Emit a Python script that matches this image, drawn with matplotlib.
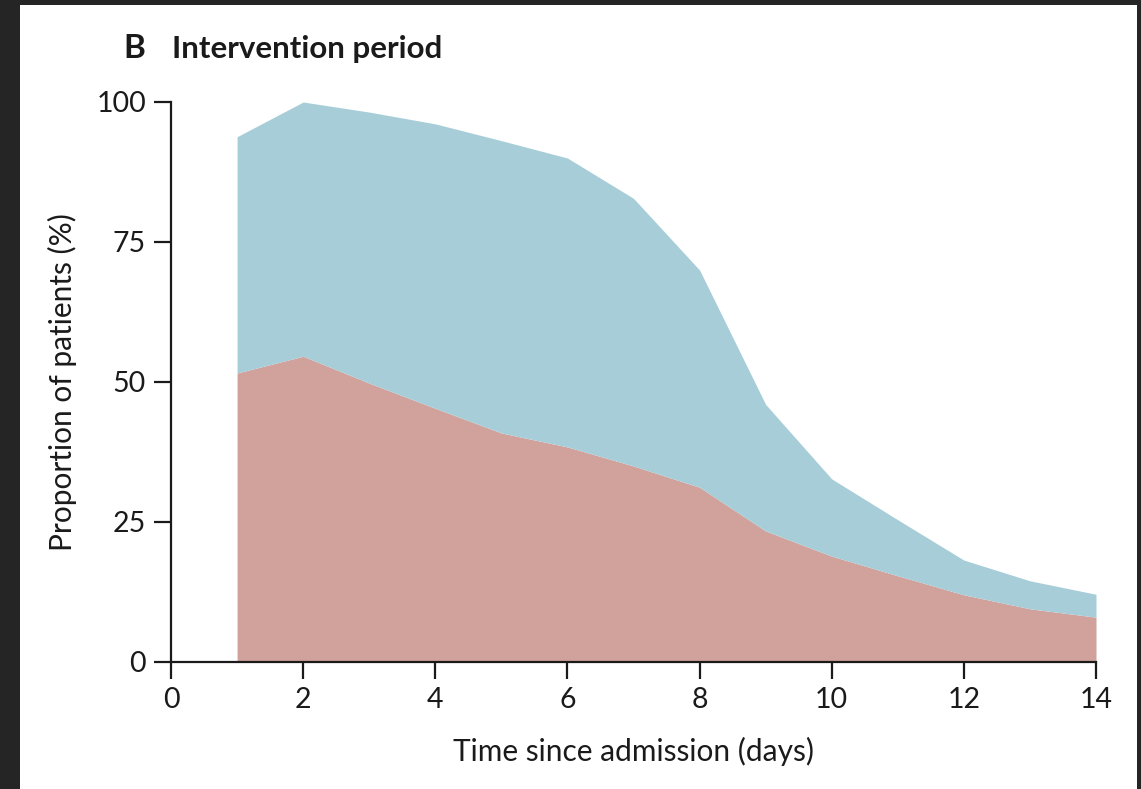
import matplotlib
matplotlib.use("Agg")
import matplotlib.pyplot as plt
from matplotlib.patches import Rectangle

# values (percent of patients)
days = [1, 2, 3, 4, 5, 6, 7, 8, 9, 10, 11, 12, 13, 14]
total_pct = [93.8, 100.0, 98.2, 96.1, 93.1, 90.0, 82.8, 70.0, 46.0, 32.7, 25.4, 18.2, 14.5, 12.1]
lower_pct = [51.6, 54.6, 49.8, 45.3, 40.9, 38.4, 35.0, 31.2, 23.4, 18.9, 15.4, 12.0, 9.5, 8.0]

x_ticks = [0, 2, 4, 6, 8, 10, 12, 14]
y_ticks = [0, 25, 50, 75, 100]

blue = "#a7ced8"
red = "#d1a19b"
ink = "#1a1a1a"

plt.rcParams['font.family'] = ['Lato', 'DejaVu Sans']

fig = plt.figure(figsize=(11.41, 7.89), dpi=100)
fig.patch.set_facecolor("#252525")
# white page inside the dark frame, kept under the axes
page = Rectangle((20 / 1141, 0), (1137 - 20) / 1141, (789 - 5) / 789,
                 transform=fig.transFigure, facecolor="white",
                 edgecolor="none", zorder=-10)
fig.add_artist(page)

ax = fig.add_axes([171 / 1141, 127 / 789, 925 / 1141, 560 / 789])
ax.set_facecolor("none")

ax.fill_between(days, 0, lower_pct, color=red, linewidth=0)
ax.fill_between(days, lower_pct, total_pct, color=blue, linewidth=0)

ax.set_xlim(0, 14)
ax.set_ylim(0, 100)
ax.set_xticks(x_ticks)
ax.set_yticks(y_ticks)

for side in ("top", "right"):
    ax.spines[side].set_visible(False)
for side in ("left", "bottom"):
    ax.spines[side].set_linewidth(1.6)
    ax.spines[side].set_color(ink)

ax.tick_params(axis="y", length=12, width=1.6, color=ink, pad=6,
               labelsize=20.5, labelcolor=ink)
ax.tick_params(axis="x", length=12, width=1.6, color=ink, pad=6,
               labelsize=20.5, labelcolor=ink)

ax.set_xlabel("Time since admission (days)", fontsize=21.5, color=ink, labelpad=17)
ax.set_ylabel("Proportion of patients (%)", fontsize=21.5, color=ink, labelpad=14)

fig.text(123 / 1141, 1 - 58 / 789, "B", fontsize=24, fontweight="bold", color=ink)
fig.text(172 / 1141, 1 - 58 / 789, "Intervention period", fontsize=22.5,
         fontweight="bold", color=ink)

fig.savefig("out.png", dpi=100, facecolor=fig.get_facecolor())
